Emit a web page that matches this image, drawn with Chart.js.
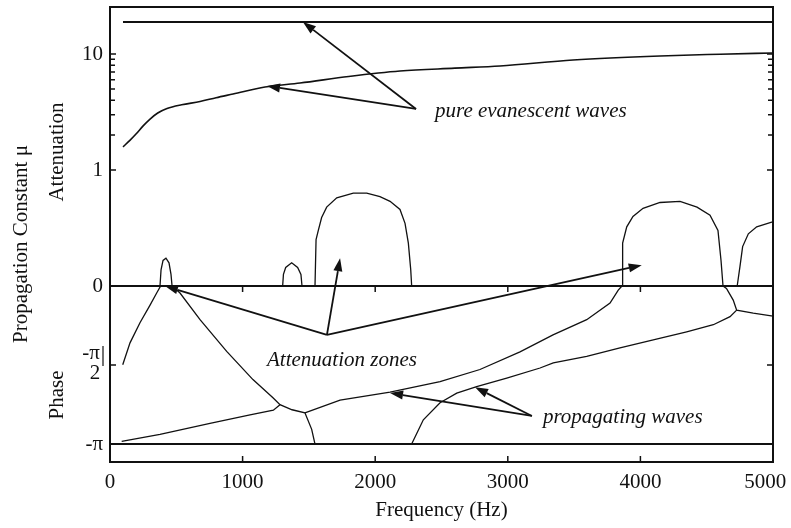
<!DOCTYPE html>
<html>
<head>
<meta charset="utf-8">
<script src="https://cdn.jsdelivr.net/npm/chart.js@4.4.1/dist/chart.umd.min.js"></script>
<style>
  html, body { margin: 0; padding: 0; background: #fff; }
  #wrap { width: 791px; height: 528px; position: relative; }
</style>
</head>
<body>
<div id="wrap"><canvas id="propChart"></canvas></div>
<script>
// x axis: frequency (Hz)
var xTicks = [0, 1000, 2000, 3000, 4000, 5000];

// pure evanescent waves, attenuation (Np)
var evanFreq = [98, 150, 196, 250, 302, 360, 430, 540, 679, 800, 928, 1169, 1433, 1800, 2187, 2600, 2941, 3492, 4148, 4600, 5000];
var evanAtt = [1.58, 1.8, 2.04, 2.4, 2.75, 3.1, 3.39, 3.65, 3.89, 4.2, 4.52, 5.2, 5.62, 6.4, 7.13, 7.55, 7.89, 8.87, 9.62, 9.95, 10.2];
var evanTopFreq = [98, 5000];
var evanTopAtt = [18.9, 18.9];

// attenuation zones, attenuation (Np)
var zoneAFreq = [377, 385, 400, 422, 445, 460, 468];
var zoneAAtt = [0, 0.14, 0.22, 0.24, 0.2, 0.1, 0];
var zoneBFreq = [1302, 1308, 1325, 1370, 1415, 1440, 1448];
var zoneBAtt = [0, 0.1, 0.16, 0.2, 0.16, 0.1, 0];
var zoneCFreq = [1546, 1554, 1571, 1596, 1634, 1710, 1835, 1936, 2036, 2112, 2187, 2225, 2250, 2268, 2275];
var zoneCAtt = [0, 0.4, 0.48, 0.59, 0.68, 0.76, 0.8, 0.8, 0.77, 0.73, 0.66, 0.54, 0.37, 0.14, 0];
var zoneDFreq = [3866, 3866, 3897, 3944, 4020, 4148, 4299, 4427, 4525, 4585, 4608, 4623];
var zoneDAtt = [0, 0.37, 0.51, 0.6, 0.67, 0.72, 0.73, 0.68, 0.61, 0.48, 0.22, 0];
var zoneEFreq = [4730, 4751, 4771, 4814, 4877, 4990, 5000];
var zoneEAtt = [0, 0.17, 0.34, 0.45, 0.51, 0.55, 0.55];

// phase (rad)
var phaseP1Freq = [96, 151, 226, 302, 352, 382, 468];
var phaseP1 = [-1.566, -1.13, -0.73, -0.38, -0.14, 0, 0];
var phaseP2Freq = [468, 528, 679, 880, 1078, 1229, 1282, 1373, 1470, 1521, 1546];
var phaseP2 = [0, -0.14, -0.67, -1.3, -1.86, -2.22, -2.36, -2.46, -2.52, -2.85, -3.1416];
var phaseQ1Freq = [88, 377, 754, 1056, 1232, 1282];
var phaseQ1 = [-3.09, -2.95, -2.73, -2.56, -2.47, -2.36];
var phaseR1Freq = [1470, 1735, 2112, 2489, 2790, 3092, 3341, 3595, 3771, 3833, 3861];
var phaseR1 = [-2.52, -2.27, -2.11, -1.9, -1.66, -1.31, -0.97, -0.67, -0.34, -0.08, 0];
var phaseR2Freq = [2275, 2363, 2489, 2615, 2765, 2992, 3243, 3343, 3595, 3846, 4097, 4349, 4550, 4676, 4726];
var phaseR2 = [-3.1416, -2.66, -2.32, -2.13, -2.0, -1.83, -1.63, -1.53, -1.4, -1.23, -1.07, -0.91, -0.77, -0.61, -0.48];
var phaseR3Freq = [4623, 4649, 4700, 4726, 4851, 5000];
var phaseR3 = [0, -0.05, -0.28, -0.48, -0.54, -0.6];
var phaseZeroFreq = [0, 5000];
var phaseZero = [0, 0];
var phaseMinPiFreq = [0, 5000];
var phaseMinPi = [-Math.PI, -Math.PI];

// composite y axis: attenuation on top (linear below 1, log above), phase below 0
var PHASE_K = 0.4336;
function attToAxis(a) { return a <= 1 ? a : 1 + Math.log10(a); }
function phaseToAxis(p) { return p * PHASE_K; }

var yMajor = [2, 1, 0, phaseToAxis(-Math.PI / 2), phaseToAxis(-Math.PI)];
var yMinor = [2, 3, 4, 5, 6, 7, 8, 9].map(function (k) { return attToAxis(k); });

function pts(xs, ys, fn) {
    return xs.map(function (x, i) { return { x: x, y: fn(ys[i]) }; });
}

function line(data, width, smooth) {
    var ds = {
        data: data,
        borderColor: '#111',
        borderWidth: width || 1.3,
        pointRadius: 0,
        tension: 0,
        fill: false
    };
    if (smooth) ds.cubicInterpolationMode = 'monotone';
    return ds;
}

var datasets = [
    line(pts(evanTopFreq, evanTopAtt, attToAxis), 2),
    line(pts(evanFreq, evanAtt, attToAxis), 1.6, true),
    line(pts(zoneAFreq, zoneAAtt, attToAxis)),
    line(pts(zoneBFreq, zoneBAtt, attToAxis)),
    line(pts(zoneCFreq, zoneCAtt, attToAxis)),
    line(pts(zoneDFreq, zoneDAtt, attToAxis)),
    line(pts(zoneEFreq, zoneEAtt, attToAxis)),
    line(pts(phaseZeroFreq, phaseZero, phaseToAxis), 2),
    line(pts(phaseMinPiFreq, phaseMinPi, phaseToAxis), 2),
    line(pts(phaseP1Freq, phaseP1, phaseToAxis)),
    line(pts(phaseP2Freq, phaseP2, phaseToAxis)),
    line(pts(phaseQ1Freq, phaseQ1, phaseToAxis)),
    line(pts(phaseR1Freq, phaseR1, phaseToAxis)),
    line(pts(phaseR2Freq, phaseR2, phaseToAxis)),
    line(pts(phaseR3Freq, phaseR3, phaseToAxis))
];

// arrows and notes, in data units (Hz, axis units)
var notes = [
    { text: 'pure evanescent waves', x: 2451, y: 1.457, tail: [2308, 1.526], heads: [[1455, 2.276], [1184, 1.724]] },
    { text: 'Attenuation zones', x: 1184, y: -0.69, tail: [1636, -0.422], heads: [[415, 0], [1735, 0.239], [4010, 0.18]] },
    { text: 'propagating waves', x: 3265, y: -1.181, tail: [3182, -1.12], heads: [[2112, -0.922], [2753, -0.873]] }
];

var serif = "'Liberation Serif', 'Times New Roman', serif";

var decorPlugin = {
    id: 'decor',
    afterDatasetsDraw: function (chart) {
        var ctx = chart.ctx, a = chart.chartArea;
        var xs = chart.scales.x, ys = chart.scales.y;
        ctx.save();
        ctx.strokeStyle = '#111';
        ctx.fillStyle = '#111';

        // frame
        ctx.lineWidth = 2;
        ctx.strokeRect(a.left, a.top, a.right - a.left, a.bottom - a.top);

        // inward tick marks
        ctx.lineWidth = 1.5;
        ctx.beginPath();
        yMajor.concat(yMinor).forEach(function (v, i) {
            var py = ys.getPixelForValue(v);
            var len = i < yMajor.length ? 6 : 5;
            ctx.moveTo(a.left, py); ctx.lineTo(a.left + len, py);
            ctx.moveTo(a.right, py); ctx.lineTo(a.right - len, py);
        });
        var zeroY = ys.getPixelForValue(0);
        xTicks.slice(1, -1).forEach(function (v) {
            var px = xs.getPixelForValue(v);
            ctx.moveTo(px, a.bottom); ctx.lineTo(px, a.bottom - 6);
            ctx.moveTo(px, zeroY); ctx.lineTo(px, zeroY + 6);
        });
        ctx.stroke();

        // -pi/2 label, drawn as a small stacked fraction
        var hy = ys.getPixelForValue(phaseToAxis(-Math.PI / 2));
        ctx.font = '21px ' + serif;
        ctx.textAlign = 'center';
        ctx.textBaseline = 'middle';
        ctx.fillText('-\u03c0', a.left - 19, hy - 12);
        ctx.fillText('2', a.left - 15, hy + 8);
        ctx.lineWidth = 1.2;
        ctx.beginPath();
        ctx.moveTo(a.left - 7, hy - 19); ctx.lineTo(a.left - 7, hy + 1);
        ctx.stroke();

        // arrows
        ctx.lineWidth = 1.8;
        notes.forEach(function (n) {
            var tx = xs.getPixelForValue(n.tail[0]), ty = ys.getPixelForValue(n.tail[1]);
            n.heads.forEach(function (h) {
                var hx = xs.getPixelForValue(h[0]), hy2 = ys.getPixelForValue(h[1]);
                var ang = Math.atan2(hy2 - ty, hx - tx);
                var L = 13, W = 4.5;
                var bx = hx - L * Math.cos(ang), by = hy2 - L * Math.sin(ang);
                ctx.beginPath();
                ctx.moveTo(tx, ty); ctx.lineTo(bx, by);
                ctx.stroke();
                ctx.beginPath();
                ctx.moveTo(hx, hy2);
                ctx.lineTo(bx + W * Math.sin(ang), by - W * Math.cos(ang));
                ctx.lineTo(bx - W * Math.sin(ang), by + W * Math.cos(ang));
                ctx.closePath();
                ctx.fill();
            });
            ctx.font = 'italic 21px ' + serif;
            ctx.textAlign = 'left';
            ctx.textBaseline = 'alphabetic';
            ctx.fillText(n.text, xs.getPixelForValue(n.x), ys.getPixelForValue(n.y));
        });

        // y axis titles
        ctx.font = '21px ' + serif;
        ctx.textAlign = 'center';
        ctx.textBaseline = 'middle';
        [['Propagation Constant \u03bc', 21, 244], ['Attenuation', 57, 152], ['Phase', 57, 395]].forEach(function (t) {
            ctx.save();
            ctx.translate(t[1], t[2]);
            ctx.rotate(-Math.PI / 2);
            ctx.fillText(t[0], 0, 0);
            ctx.restore();
        });
        ctx.restore();
    }
};

new Chart(document.getElementById('propChart'), {
    type: 'line',
    data: { datasets: datasets },
    options: {
        responsive: true,
        maintainAspectRatio: false,
        animation: false,
        events: [],
        layout: { padding: { top: 7, right: 18, left: 0, bottom: 0 } },
        plugins: { legend: { display: false }, tooltip: { enabled: false } },
        scales: {
            x: {
                type: 'linear',
                min: 0,
                max: 5000,
                afterBuildTicks: function (scale) {
                    scale.ticks = xTicks.map(function (v) { return { value: v }; });
                },
                afterFit: function (scale) {
                    scale.height = 66;
                    scale.paddingLeft = 0;
                    scale.paddingRight = 0;
                },
                grid: { display: false, drawTicks: false },
                border: { display: false },
                ticks: {
                    color: '#111', padding: 8, maxRotation: 0,
                    font: { family: serif, size: 21 },
                    // last label nudged left so it stays inside the canvas
                    callback: function (v) { return v === 5000 ? '5000   ' : String(v); }
                },
                title: { display: true, text: 'Frequency (Hz)', color: '#111', padding: { top: 0, bottom: 5 }, font: { family: serif, size: 21 } }
            },
            y: {
                type: 'linear',
                min: -1.517,
                max: 2.405,
                afterBuildTicks: function (scale) {
                    scale.ticks = yMajor.map(function (v) { return { value: v }; });
                },
                afterFit: function (scale) {
                    scale.width = 110;
                    scale.paddingTop = 0;
                    scale.paddingBottom = 0;
                },
                grid: { display: false, drawTicks: false },
                border: { display: false },
                ticks: {
                    color: '#111',
                    padding: 7,
                    font: { family: serif, size: 21 },
                    callback: function (v) {
                        if (Math.abs(v - 2) < 1e-6) return '10';
                        if (Math.abs(v - 1) < 1e-6) return '1';
                        if (Math.abs(v) < 1e-6) return '0';
                        if (Math.abs(v - phaseToAxis(-Math.PI)) < 1e-6) return '-\u03c0';
                        return '';
                    }
                }
            }
        }
    },
    plugins: [decorPlugin]
});
</script>
</body>
</html>
